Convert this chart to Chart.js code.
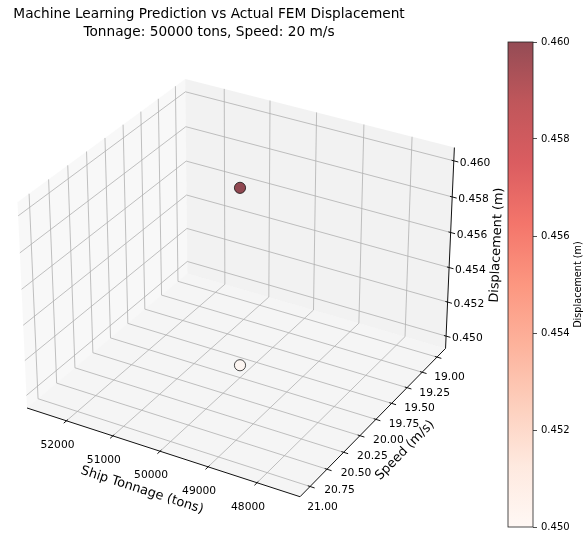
<!DOCTYPE html>
<html>
<head>
<meta charset="utf-8">
<script src="https://cdn.jsdelivr.net/npm/chart.js@4.4.0/dist/chart.umd.min.js"></script>
<style>
  html, body { margin: 0; padding: 0; background: #ffffff; }
  #wrap { position: relative; width: 584px; height: 537px; overflow: hidden; }
  #main { position: absolute; left: 0; top: 0; }
  #cbar { position: absolute; left: 490px; top: 30px; }
</style>
</head>
<body>
<div id="wrap">
  <canvas id="main" width="584" height="537"></canvas>
  <canvas id="cbar" width="94" height="507"></canvas>
</div>
<script>
// ---------------- data ----------------
const seriesNames  = ['ML Prediction', 'FEM Actual'];
const tonnage      = [50000, 50000];      // tons
const speed        = [20, 20];            // m/s
const displacement = [0.460, 0.450];      // m

const tonnageTicks  = [48000, 49000, 50000, 51000, 52000];
const speedTicks    = [19.00, 19.25, 19.50, 19.75, 20.00, 20.25, 20.50, 20.75, 21.00];
const dispTicks     = [0.450, 0.452, 0.454, 0.456, 0.458, 0.460];
const colorbarTicks = [0.450, 0.452, 0.454, 0.456, 0.458, 0.460];

const titleLines = ['Machine Learning Prediction vs Actual FEM Displacement',
                    'Tonnage: 50000 tons, Speed: 20 m/s'];
const xLabel = 'Ship Tonnage (tons)';
const yLabel = 'Speed (m/s)';
const zLabel = 'Displacement (m)';
const cbarLabel = 'Displacement (m)';

// ---------------- axis limits (autoscale with margins + pane padding) ----------------
function axisLimits(values) {
  let lo = Math.min(...values), hi = Math.max(...values);
  if (lo === hi) { lo -= 0.05 * Math.abs(lo); hi += 0.05 * Math.abs(hi); }
  const m = 0.05 * (hi - lo); lo -= m; hi += m;
  const pad = (hi - lo) / 48;
  return [lo - pad, hi + pad];
}
const [tLo, tHi] = axisLimits(tonnage);
const [sLo, sHi] = axisLimits(speed);
const [dLo, dHi] = axisLimits(displacement);
// tonnage and speed axes both run reversed
const na = t => (tHi - t) / (tHi - tLo);
const nb = s => (sHi - s) / (sHi - sLo);
const nc = d => (d - dLo) / (dHi - dLo);

// ---------------- perspective camera ----------------
const ELEV = 30, AZIM = -60, DIST = 10;
const dot = (p, q) => p[0]*q[0] + p[1]*q[1] + p[2]*q[2];
const cross = (p, q) => [p[1]*q[2]-p[2]*q[1], p[2]*q[0]-p[0]*q[2], p[0]*q[1]-p[1]*q[0]];
const unit = p => { const n = Math.hypot(...p); return p.map(v => v / n); };
const aspect = (() => { const v = [4, 4, 3]; const n = Math.hypot(...v); return v.map(x => x * 1.8294640721620434 / n); })();
const centre = aspect.map(x => x / 2);
const er = ELEV * Math.PI / 180, ar = AZIM * Math.PI / 180;
const wv = [Math.cos(er) * Math.cos(ar), Math.cos(er) * Math.sin(ar), Math.sin(er)];
const eye = centre.map((r, i) => r + DIST * wv[i]);
const uv = unit(cross([0, 0, 1], wv));
const vv = cross(wv, uv);
function project(a, b, c) {
  const P = [a * aspect[0], b * aspect[1], c * aspect[2]];
  const d = P.map((p, i) => p - eye[i]);
  const z = dot(wv, d);
  return { x: dot(uv, d) / -z, y: dot(vv, d) / -z };
}

// view window of the projection plane on the canvas
const W = 584, H = 537, CX = 240, CY = 278.2, K = 2737.4;

// ---------------- colour map ----------------
const REDS = [[255,245,240],[254,224,210],[252,187,161],[252,146,114],[251,106,74],
              [239,59,44],[203,24,29],[165,15,21],[103,0,13]];
const ALPHA = 0.7;
const vmin = Math.min(...displacement), vmax = Math.max(...displacement);
function reds(t) {
  t = Math.min(1, Math.max(0, t));
  const s = t * (REDS.length - 1);
  const i = Math.min(REDS.length - 2, Math.floor(s));
  const f = s - i;
  return REDS[i].map((v, k) => Math.round(v + (REDS[i + 1][k] - v) * f));
}
const rgba = (c, a) => `rgba(${c[0]},${c[1]},${c[2]},${a})`;

// ---------------- helpers ----------------
const FONT = '"DejaVu Sans", "Liberation Sans", sans-serif';
function drawText(ctx, s, x, y, size, opts = {}) {
  ctx.save();
  ctx.translate(x, y);
  if (opts.rot) ctx.rotate(opts.rot);
  ctx.font = `${size}px ${FONT}`;
  ctx.fillStyle = opts.color || '#000';
  ctx.textAlign = opts.align || 'center';
  ctx.textBaseline = opts.baseline || 'middle';
  ctx.fillText(s, 0, 0);
  ctx.restore();
}
function labelAngle(p0, p1) {
  let ang = Math.atan2(p1[1] - p0[1], p1[0] - p0[0]);
  if (ang > Math.PI / 2) ang -= Math.PI;
  if (ang <= -Math.PI / 2) ang += Math.PI;
  return ang;
}

// ---------------- 3D box: panes, grid, axes, ticks ----------------
const box3d = {
  id: 'box3d',
  beforeDatasetsDraw(chart) {
    const ctx = chart.ctx;
    const xs = chart.scales.x, ys = chart.scales.y;
    const S = (a, b, c) => { const p = project(a, b, c); return [xs.getPixelForValue(p.x), ys.getPixelForValue(p.y)]; };
    const poly = (pts, fill) => {
      ctx.beginPath();
      pts.forEach((p, i) => { const q = S(...p); i ? ctx.lineTo(q[0], q[1]) : ctx.moveTo(q[0], q[1]); });
      ctx.closePath(); ctx.fillStyle = fill; ctx.fill();
    };
    const seg = (pts, color, lw) => {
      ctx.beginPath();
      pts.forEach((p, i) => { const q = S(...p); i ? ctx.lineTo(q[0], q[1]) : ctx.moveTo(q[0], q[1]); });
      ctx.strokeStyle = color; ctx.lineWidth = lw; ctx.stroke();
    };
    ctx.save();
    // panes
    poly([[0,0,0],[0,1,0],[0,1,1],[0,0,1]], 'rgba(242,242,242,0.5)');
    poly([[0,1,0],[1,1,0],[1,1,1],[0,1,1]], 'rgba(230,230,230,0.5)');
    poly([[0,0,0],[1,0,0],[1,1,0],[0,1,0]], 'rgba(236,236,236,0.5)');
    // grid
    const GC = '#b0b0b0', GW = 0.8;
    tonnageTicks.forEach(t => { const a = na(t); seg([[a,0,0],[a,1,0],[a,1,1]], GC, GW); });
    speedTicks.forEach(s => { const b = nb(s); seg([[0,b,1],[0,b,0],[1,b,0]], GC, GW); });
    dispTicks.forEach(d => { const c = nc(d); seg([[1,1,c],[0,1,c],[0,0,c]], GC, GW); });
    // axis lines
    const AC = '#111', AW = 1;
    seg([[0,0,0],[1,0,0]], AC, AW);
    seg([[1,0,0],[1,1,0]], AC, AW);
    seg([[1,1,0],[1,1,1]], AC, AW);
    // ticks and tick labels
    const TS = 10.7;
    tonnageTicks.forEach(t => {
      const a = na(t);
      seg([[a,-0.016,0],[a,0.008,0]], AC, AW);
      const p = S(a, 0, 0);
      drawText(ctx, String(t), p[0] - 9, p[1] + 24, TS);
    });
    speedTicks.forEach(s => {
      const b = nb(s);
      seg([[0.992,b,0],[1.016,b,0]], AC, AW);
      const p = S(1, b, 0);
      drawText(ctx, s.toFixed(2), p[0] + 12.5, p[1] + 20.5, TS);
    });
    dispTicks.forEach(d => {
      const c = nc(d);
      seg([[0.992,1,c],[1.016,1,c]], AC, AW);
      const p = S(1, 1, c);
      drawText(ctx, d.toFixed(3), p[0] + 6, p[1] + 2.5, TS, { align: 'left' });
    });
    // axis titles
    const LS = 12.9;
    let p0 = S(0,0,0), p1 = S(1,0,0), m = S(0.5,0,0);
    drawText(ctx, xLabel, m[0] - 18, m[1] + 39, LS, { rot: labelAngle(p0, p1) });
    p0 = S(1,0,0); p1 = S(1,1,0); m = S(1,0.5,0);
    drawText(ctx, yLabel, m[0] + 29, m[1] + 31, LS, { rot: labelAngle(p0, p1) });
    p0 = S(1,1,0); p1 = S(1,1,1); m = S(1,1,0.5);
    drawText(ctx, zLabel, m[0] + 47, m[1] - 5, LS, { rot: labelAngle(p0, p1) });
    // figure title
    drawText(ctx, titleLines[0], 209, 18.3, 13.7, { baseline: 'alphabetic' });
    drawText(ctx, titleLines[1], 209, 36, 13.7, { baseline: 'alphabetic' });
    ctx.restore();
  }
};

const datasets = displacement.map((d, i) => {
  const p = project(na(tonnage[i]), nb(speed[i]), nc(d));
  return {
    label: seriesNames[i],
    data: [{ x: p.x, y: p.y }],
    pointRadius: 5.6,
    pointBorderWidth: 1,
    pointBackgroundColor: rgba(reds((d - vmin) / (vmax - vmin)), ALPHA),
    pointBorderColor: 'rgba(0,0,0,0.7)',
    showLine: false
  };
});

new Chart(document.getElementById('main'), {
  type: 'scatter',
  data: { datasets },
  options: {
    responsive: false, animation: false, events: [],
    layout: { padding: 0, autoPadding: false },
    plugins: { legend: { display: false }, tooltip: { enabled: false } },
    scales: {
      x: { type: 'linear', display: false, min: -CX / K, max: (W - CX) / K },
      y: { type: 'linear', display: false, min: (CY - H) / K, max: CY / K }
    }
  },
  plugins: [box3d]
});

// ---------------- colour bar ----------------
const cbarFrame = {
  id: 'cbarFrame',
  afterDatasetsDraw(chart) {
    const { ctx, chartArea: ca } = chart;
    ctx.save();
    ctx.strokeStyle = '#222'; ctx.lineWidth = 0.8;
    ctx.strokeRect(ca.left, ca.top, ca.right - ca.left, ca.bottom - ca.top);
    drawText(ctx, cbarLabel, 88, (ca.top + ca.bottom) / 2, 9.7, { rot: -Math.PI / 2 });
    ctx.restore();
  }
};

new Chart(document.getElementById('cbar'), {
  type: 'bar',
  data: {
    labels: [cbarLabel],
    datasets: [{
      data: [[vmin, vmax]],
      barPercentage: 1, categoryPercentage: 1, borderWidth: 0,
      backgroundColor: (c) => {
        const ca = c.chart.chartArea;
        if (!ca) return 'transparent';
        const g = c.chart.ctx.createLinearGradient(0, ca.bottom, 0, ca.top);
        REDS.forEach((col, i) => g.addColorStop(i / (REDS.length - 1), rgba(col, ALPHA)));
        return g;
      }
    }]
  },
  options: {
    responsive: false, animation: false, events: [],
    layout: { padding: { left: 18, top: 12, bottom: 8, right: 0 }, autoPadding: false },
    plugins: { legend: { display: false }, tooltip: { enabled: false } },
    scales: {
      x: { display: false },
      y: {
        position: 'right', min: vmin, max: vmax,
        afterFit: s => { s.width = 51; },
        afterBuildTicks: s => { s.ticks = colorbarTicks.map(v => ({ value: v })); },
        ticks: { callback: v => Number(v).toFixed(3), font: { family: 'DejaVu Sans', size: 10 }, color: '#000', padding: 4, autoSkip: false },
        grid: { drawOnChartArea: false, drawTicks: true, tickLength: 4, tickColor: '#222', tickWidth: 0.8 },
        border: { display: false }
      }
    }
  },
  plugins: [cbarFrame]
});
</script>
</body>
</html>
